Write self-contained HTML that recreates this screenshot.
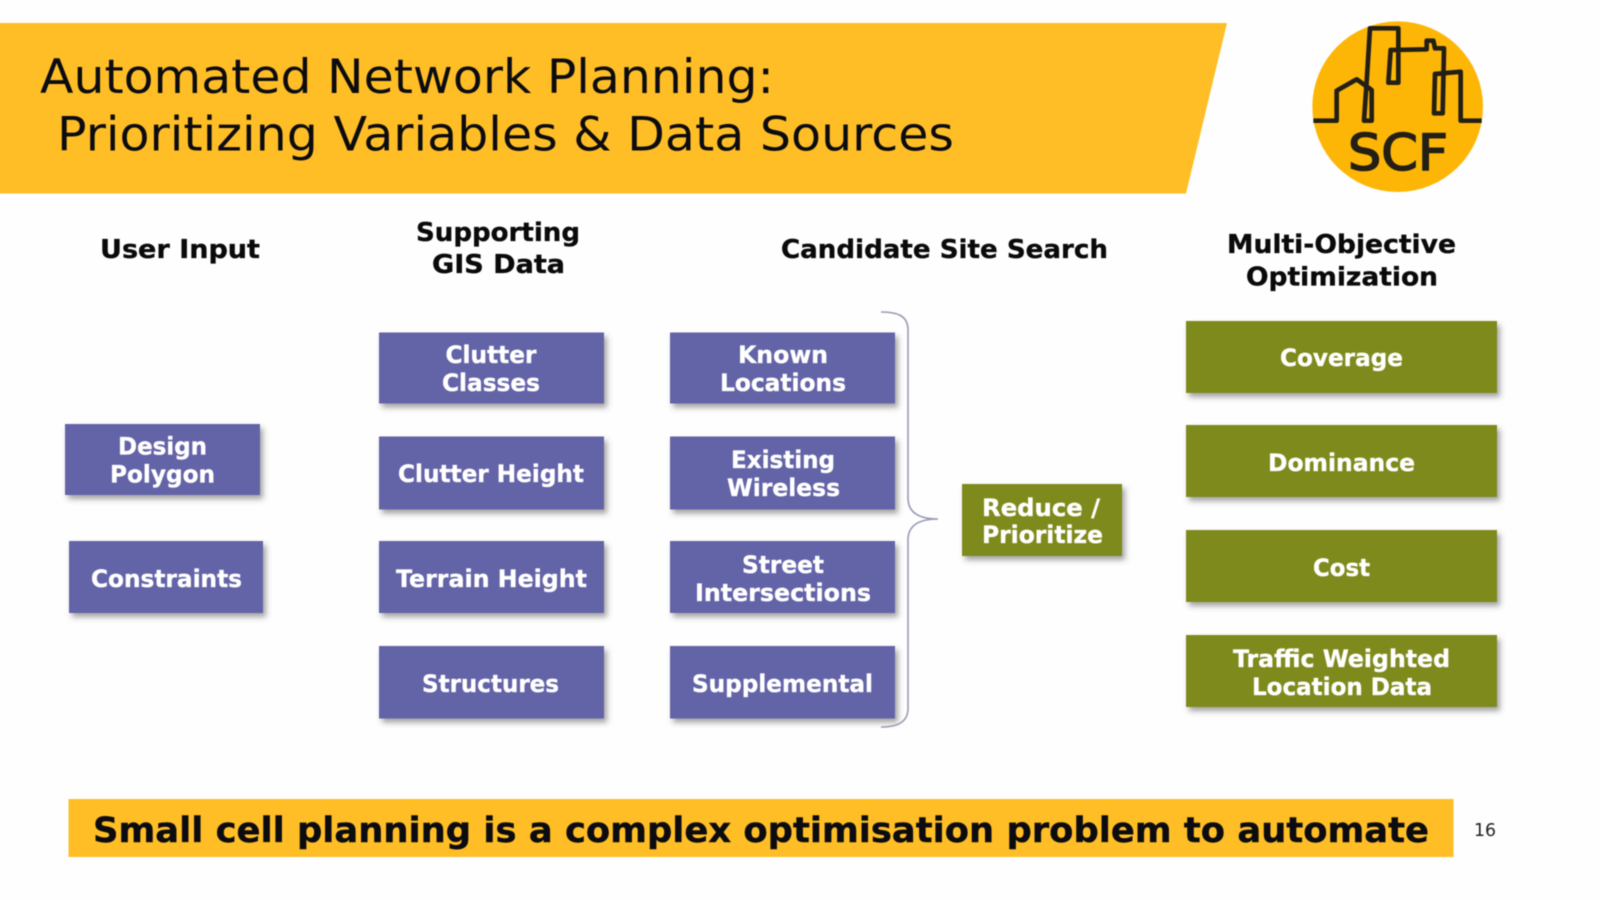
<!DOCTYPE html>
<html><head><meta charset="utf-8"><style>
html,body{margin:0;padding:0;background:#fefefe;width:1600px;height:900px;overflow:hidden}
svg{display:block;filter:blur(.45px);margin-left:-10px}
text{font-family:"DejaVu Sans","Liberation Sans",sans-serif}
.b{font-weight:bold;font-size:24px;fill:#fff;stroke:#fff;stroke-width:.35px;text-anchor:start}
.h{font-weight:bold;font-size:26px;fill:#0a0a0a;stroke:#0a0a0a;stroke-width:.35px}
.p{fill:#6464a8;filter:url(#s)}
.g{fill:#7f8a1e;filter:url(#s)}
</style></head><body>
<svg width="1620" height="900" viewBox="-10 0 1620 900" xmlns="http://www.w3.org/2000/svg">
<defs><filter id="s" x="-10%" y="-20%" width="125%" height="150%"><feDropShadow dx="3" dy="4" stdDeviation="3" flood-color="#444" flood-opacity=".5"/></filter></defs>
<rect x="-10" width="1620" height="900" fill="#fefefe"/>
<polygon points="-10,23 1227,23 1186,193.5 -10,193.5" fill="#ffbe26"/>
<text x="40" y="93" font-size="47" fill="#0c0c10" textLength="734" lengthAdjust="spacingAndGlyphs">Automated Network Planning:</text>
<text x="57" y="150.5" font-size="47" fill="#0c0c10" textLength="897" lengthAdjust="spacingAndGlyphs">Prioritizing Variables &amp; Data Sources</text>
<g transform="translate(1200,0) scale(.33333)">
<circle cx="593" cy="320" r="256" fill="#fdb606"/>
<path d="M340 362H410V272L470 238L515 270V362H492L500 245L510 85H595V248H565L572 150L680 148V122H700L705 145H732L728 340H702L705 222L782 215V362H845" fill="none" stroke="#231f14" stroke-width="14" stroke-linejoin="round"/>
</g>
<text x="1348" y="170" font-size="50" fill="#231f14" stroke="#231f14" stroke-width="1.6" textLength="100" lengthAdjust="spacingAndGlyphs">SCF</text>

<text class="h" x="100" y="258" textLength="160" lengthAdjust="spacingAndGlyphs">User Input</text>
<text class="h" x="416" y="241" textLength="164" lengthAdjust="spacingAndGlyphs">Supporting</text>
<text class="h" x="432" y="273" textLength="133" lengthAdjust="spacingAndGlyphs">GIS Data</text>
<text class="h" x="781" y="258" textLength="327" lengthAdjust="spacingAndGlyphs">Candidate Site Search</text>
<text class="h" x="1227" y="253" textLength="229" lengthAdjust="spacingAndGlyphs">Multi-Objective</text>
<text class="h" x="1246" y="285.5" textLength="192" lengthAdjust="spacingAndGlyphs">Optimization</text>

<rect class="p" x="65" y="424" width="195" height="71"/>
<rect class="p" x="69" y="541" width="194" height="72"/>
<rect class="p" x="379" y="332.5" width="225" height="71"/>
<rect class="p" x="379" y="436.5" width="225" height="73"/>
<rect class="p" x="379" y="541" width="225" height="72"/>
<rect class="p" x="379" y="646" width="225" height="72.5"/>
<rect class="p" x="670" y="332.5" width="225" height="71"/>
<rect class="p" x="670" y="436.5" width="225" height="73"/>
<rect class="p" x="670" y="541" width="225" height="72"/>
<rect class="p" x="670" y="646" width="225" height="72.5"/>
<rect class="g" x="962" y="484" width="160" height="72"/>
<rect class="g" x="1186" y="321" width="311" height="72"/>
<rect class="g" x="1186" y="425" width="311" height="72"/>
<rect class="g" x="1186" y="530" width="311" height="72"/>
<rect class="g" x="1186" y="635" width="311" height="72"/>

<path d="M881 312C898 312 908 316 908 330V498C908 512 918 519 938 519C918 519 908 526 908 540V708C908 722 898 727 881 727" fill="none" stroke="#9a9ab8" stroke-width="1.6"/>

<text class="b" x="118" y="454.5" textLength="89" lengthAdjust="spacingAndGlyphs">Design</text>
<text class="b" x="110" y="482.5" textLength="105" lengthAdjust="spacingAndGlyphs">Polygon</text>
<text class="b" x="91" y="587" textLength="151" lengthAdjust="spacingAndGlyphs">Constraints</text>
<text class="b" x="445.5" y="363" textLength="91" lengthAdjust="spacingAndGlyphs">Clutter</text>
<text class="b" x="442" y="391" textLength="98" lengthAdjust="spacingAndGlyphs">Classes</text>
<text class="b" x="398" y="482" textLength="186" lengthAdjust="spacingAndGlyphs">Clutter Height</text>
<text class="b" x="396" y="587" textLength="191" lengthAdjust="spacingAndGlyphs">Terrain Height</text>
<text class="b" x="422" y="692" textLength="137" lengthAdjust="spacingAndGlyphs">Structures</text>
<text class="b" x="738" y="363" textLength="90" lengthAdjust="spacingAndGlyphs">Known</text>
<text class="b" x="720" y="391" textLength="126" lengthAdjust="spacingAndGlyphs">Locations</text>
<text class="b" x="731" y="468" textLength="104" lengthAdjust="spacingAndGlyphs">Existing</text>
<text class="b" x="727" y="496" textLength="113" lengthAdjust="spacingAndGlyphs">Wireless</text>
<text class="b" x="742" y="573" textLength="82" lengthAdjust="spacingAndGlyphs">Street</text>
<text class="b" x="695" y="601" textLength="176" lengthAdjust="spacingAndGlyphs">Intersections</text>
<text class="b" x="692" y="692" textLength="181" lengthAdjust="spacingAndGlyphs">Supplemental</text>
<text class="b" x="982" y="516" textLength="118" lengthAdjust="spacingAndGlyphs">Reduce /</text>
<text class="b" x="982" y="543" textLength="121" lengthAdjust="spacingAndGlyphs">Prioritize</text>
<text class="b" x="1280" y="366" textLength="123" lengthAdjust="spacingAndGlyphs">Coverage</text>
<text class="b" x="1268" y="471" textLength="147" lengthAdjust="spacingAndGlyphs">Dominance</text>
<text class="b" x="1313" y="576" textLength="57" lengthAdjust="spacingAndGlyphs">Cost</text>
<text class="b" x="1233" y="667" textLength="217" lengthAdjust="spacingAndGlyphs">Traffic Weighted</text>
<text class="b" x="1252" y="695" textLength="180" lengthAdjust="spacingAndGlyphs">Location Data</text>

<rect x="68.5" y="799" width="1385" height="58" fill="#ffbe26"/>
<text x="93" y="842" font-size="35" font-weight="bold" fill="#0c0c10" stroke="#0c0c10" stroke-width=".4" textLength="1336" lengthAdjust="spacingAndGlyphs">Small cell planning is a complex optimisation problem to automate</text>
<text x="1474" y="836" font-size="18" fill="#222" textLength="22" lengthAdjust="spacingAndGlyphs">16</text>
</svg>
</body></html>
